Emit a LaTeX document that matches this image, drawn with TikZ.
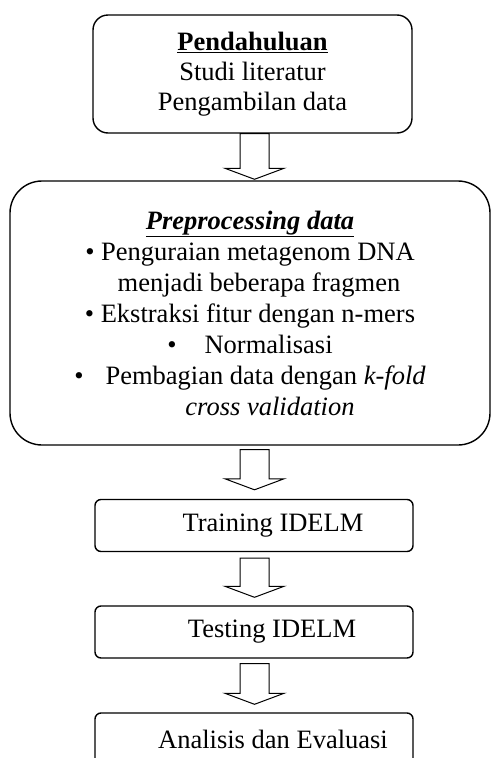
\documentclass[tikz,border=0pt]{standalone}
\usepackage{fontspec}
\setmainfont{Liberation Serif}
\usetikzlibrary{calc}

\begin{document}
\begin{tikzpicture}[
    x=1pt, y=1pt,
    font=\fontsize{26.5pt}{30pt}\selectfont,
    box/.style={draw, line width=1.4pt, align=center, inner sep=0pt},
    stepbox/.style={box, rounded corners=6pt, minimum width=318pt, minimum height=52pt},
    hollow/.style={draw, line width=1pt, line join=miter},
  ]
  \path[use as bounding box] (0,0) rectangle (491,-758);
  % boxes
  \node[box, rounded corners=15pt, minimum width=319pt, minimum height=118pt] (intro) at (252.5,-74)
    {\textbf{\underline{Pendahuluan}}\\Studi literatur\\Pengambilan data};
  \node[box, rounded corners=32pt, minimum width=480pt, minimum height=264pt,
    font=\fontsize{26.5pt}{31pt}\selectfont] (prep) at (250,-313)
    {\textbf{\textit{\underline{Preprocessing data}}}\\
     \textbullet{} Penguraian metagenom DNA\\
     \hspace*{18pt}menjadi beberapa fragmen\\
     \textbullet{} Ekstraksi fitur dengan n-mers\\
     \textbullet\hspace{28pt}Normalisasi\\
     \textbullet\hspace{22pt}Pembagian data dengan \textit{k-fold}\\
     \hspace*{40pt}\textit{cross validation}};
  \node[stepbox] (train) at (254,-525.5) {\hspace*{38pt}Training IDELM};
  \node[stepbox] (test) at (254,-632) {\hspace*{36pt}Testing IDELM};
  \node[stepbox] (eval) at (254,-739) {\hspace*{38pt}Analisis dan Evaluasi};
  % block arrows
  \foreach \a/\b/\s/\g in {intro/prep/0/1, prep/train/4/9, train/test/6/8, test/eval/5/8}
    \draw[hollow] let \p1=(\a.south), \p2=(\b.north) in
      (240,\y1-\s) -- (240,\y2+\g+11) -- (225,\y2+\g+11) -- (254.5,\y2+\g)
      -- (284,\y2+\g+11) -- (269,\y2+\g+11) -- (269,\y1-\s) -- cycle;
\end{tikzpicture}
\end{document}
